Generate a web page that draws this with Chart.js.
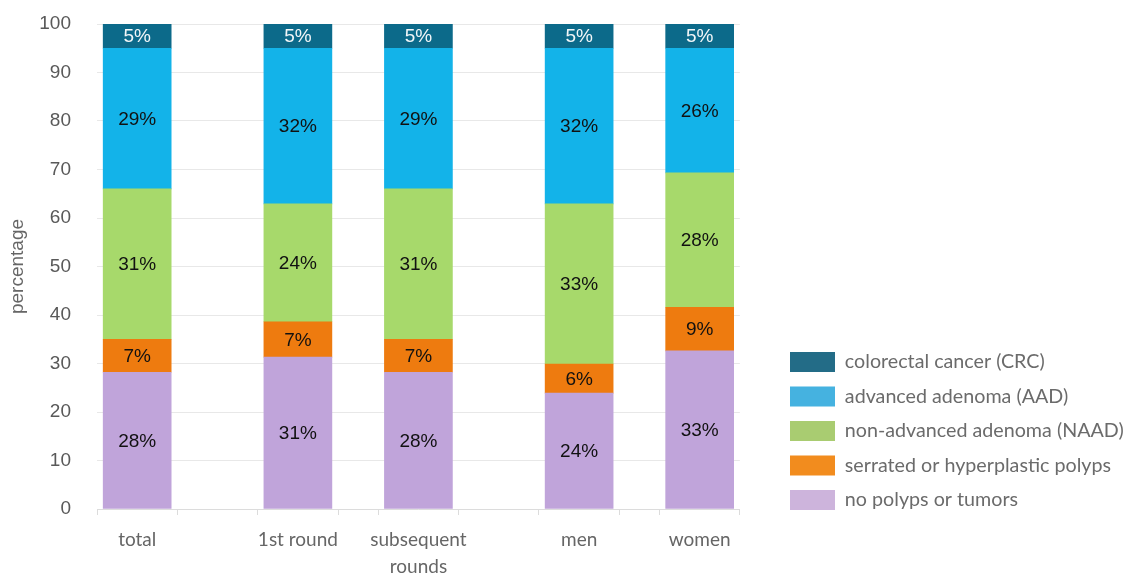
<!DOCTYPE html>
<html>
<head>
<meta charset="utf-8">
<script src="https://cdn.jsdelivr.net/npm/chart.js@4.4.1/dist/chart.umd.min.js"></script>
<style>
  html, body { margin: 0; padding: 0; background: #fff; }
  #wrap { width: 1127px; height: 577px; }
</style>
</head>
<body>
<div id="wrap"><canvas id="chart"></canvas></div>
<script>
// --- data (percent per group) ---
const categories = ['total', '1st round', ['subsequent', 'rounds'], 'men', 'women'];
const noPolyps = [28.2, 31.3, 28.2, 23.9, 32.6];
const serrated = [6.8, 7.3, 6.8, 6.0, 9.0];
const naad     = [31.0, 24.3, 31.0, 33.0, 27.7];
const aad      = [29.0, 32.1, 29.0, 32.1, 25.7];
const crc      = [5, 5, 5, 5, 5];
const seriesNames = [
  'no polyps or tumors',
  'serrated or hyperplastic polyps',
  'non-advanced adenoma (NAAD)',
  'advanced adenoma (AAD)',
  'colorectal cancer (CRC)'
];
const yTicks = [0, 10, 20, 30, 40, 50, 60, 70, 80, 90, 100];

// --- layout: group slots on a 0..16 x range, with gaps between groups ---
const slotCentres = [1, 5, 8, 12, 15];
const slotBorders = [0, 2, 4, 6, 7, 9, 11, 13, 14, 16];

const barColors = ['#C0A4DA', '#EE7B0F', '#A7D96B', '#13B3E9', '#0C6A8A'];
const legendColors = ['#CDB4DC', '#F28C1E', '#A9CC71', '#45B2E0', '#236C87'];

const seriesValues = [noPolyps, serrated, naad, aad, crc];

const datasets = seriesValues.map((vals, si) => ({
  label: seriesNames[si],
  data: vals.map((v, i) => ({ x: slotCentres[i], y: v })),
  backgroundColor: barColors[si],
  borderWidth: 0,
  barThickness: 68,
  xAxisID: 'x',
  yAxisID: 'y'
}));

// value labels in the middle of each segment
const valueLabels = {
  id: 'valueLabels',
  afterDatasetsDraw(chart) {
    const ctx = chart.ctx;
    ctx.save();
    ctx.font = '19px "Liberation Sans", Arial, sans-serif';
    ctx.textAlign = 'center';
    ctx.textBaseline = 'middle';
    chart.data.datasets.forEach((ds, di) => {
      chart.getDatasetMeta(di).data.forEach((bar, i) => {
        ctx.fillStyle = di === 4 ? '#f2f6f8' : '#111';
        ctx.fillText(Math.round(ds.data[i].y) + '%', bar.x, (bar.y + bar.base) / 2 + 1);
      });
    });
    ctx.restore();
  }
};

// place the legend block lower right, as in the source
const legendPlace = {
  id: 'legendPlace',
  afterLayout(chart) {
    const lg = chart.legend;
    if (!lg) return;
    const dx = 775.5 - lg.left;
    lg.left += dx; lg.right += dx;
    const dy = 524.5 - lg.bottom;
    lg.top += dy; lg.bottom += dy;
  }
};

new Chart(document.getElementById('chart'), {
  type: 'bar',
  data: { datasets },
  options: {
    responsive: true,
    maintainAspectRatio: false,
    animation: false,
    layout: { padding: { top: 24, left: 0, right: 0, bottom: 0 } },
    plugins: {
      tooltip: { enabled: false },
      legend: {
        position: 'right',
        align: 'end',
        reverse: true,
        maxWidth: 420,
        labels: {
          boxWidth: 45,
          boxHeight: 20,
          padding: 14.5,
          color: '#6b6b6b',
          font: { family: 'Lato', size: 19.7 },
          generateLabels(chart) {
            const items = Chart.defaults.plugins.legend.labels.generateLabels(chart);
            items.forEach(it => {
              it.fillStyle = legendColors[it.datasetIndex];
              it.strokeStyle = legendColors[it.datasetIndex];
              it.lineWidth = 0;
            });
            return items;
          }
        }
      }
    },
    scales: {
      x: {
        type: 'linear',
        min: 0,
        max: 16,
        stacked: true,
        offset: false,
        afterBuildTicks(scale) {
          scale.ticks = [...slotBorders, ...slotCentres].sort((a, b) => a - b).map(v => ({ value: v }));
        },
        ticks: {
          autoSkip: false,
          maxRotation: 0,
          padding: 12,
          color: '#666',
          font: { family: 'Lato', size: 19, lineHeight: 1.4 },
          callback(value) {
            const i = slotCentres.indexOf(value);
            return i >= 0 ? categories[i] : '';
          }
        },
        grid: {
          offset: false,
          drawOnChartArea: false,
          drawTicks: true,
          tickLength: 6,
          color: c => (c.tick && slotBorders.includes(c.tick.value)) ? '#dcdcdc' : 'rgba(0,0,0,0)'
        },
        border: { color: '#dcdcdc' },
        afterFit(scale) { scale.height = 68; scale.paddingLeft = 0; scale.paddingRight = 0; }
      },
      y: {
        stacked: true,
        min: 0,
        max: 100,
        afterBuildTicks(scale) { scale.ticks = yTicks.map(v => ({ value: v })); },
        ticks: {
          padding: 26,
          color: '#595959',
          font: { family: 'Liberation Sans', size: 19 }
        },
        grid: { color: '#e8e8e8', drawTicks: false },
        border: { display: false },
        title: {
          display: true,
          text: 'percentage',
          color: '#666',
          font: { family: 'Liberation Sans', size: 19 },
          padding: { top: 6, bottom: 0 }
        },
        afterFit(scale) { scale.width = 97; scale.paddingTop = 0; scale.paddingBottom = 0; }
      },
      gap: {
        position: 'right',
        display: true,
        grid: { display: false },
        ticks: { display: false },
        border: { display: false },
        afterFit(scale) { scale.width = 29; scale.paddingTop = 0; scale.paddingBottom = 0; }
      }
    }
  },
  plugins: [valueLabels, legendPlace]
});
</script>
</body>
</html>
